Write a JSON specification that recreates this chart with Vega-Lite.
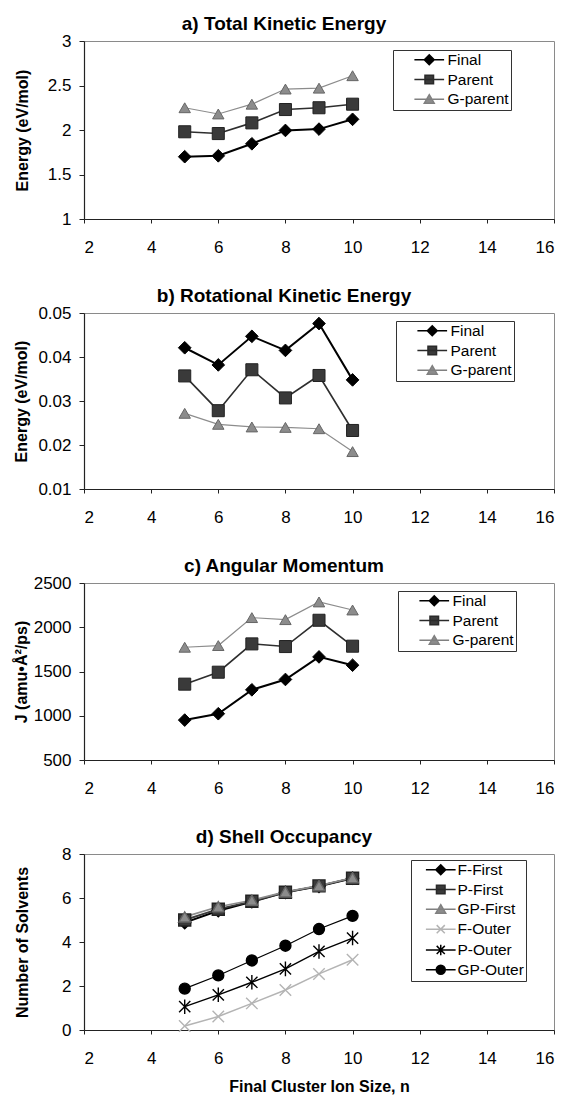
{
  "$schema": "https://vega.github.io/schema/vega-lite/v6.json",
  "padding": {"left": 12, "top": 14, "right": 2, "bottom": 2},
  "spacing": 30,
  "resolve": {
    "scale": {"color": "independent", "shape": "independent", "stroke": "independent", "strokeWidth": "independent", "size": "independent"},
    "legend": {"color": "independent", "shape": "independent", "stroke": "independent"}
  },
  "datasets": {
    "a": [
      {"n": 5, "s": "Final", "v": 1.70}, {"n": 6, "s": "Final", "v": 1.71}, {"n": 7, "s": "Final", "v": 1.845}, {"n": 8, "s": "Final", "v": 1.995}, {"n": 9, "s": "Final", "v": 2.01}, {"n": 10, "s": "Final", "v": 2.12},
      {"n": 5, "s": "Parent", "v": 1.98}, {"n": 6, "s": "Parent", "v": 1.96}, {"n": 7, "s": "Parent", "v": 2.08}, {"n": 8, "s": "Parent", "v": 2.23}, {"n": 9, "s": "Parent", "v": 2.25}, {"n": 10, "s": "Parent", "v": 2.29},
      {"n": 5, "s": "G-parent", "v": 2.25}, {"n": 6, "s": "G-parent", "v": 2.18}, {"n": 7, "s": "G-parent", "v": 2.29}, {"n": 8, "s": "G-parent", "v": 2.46}, {"n": 9, "s": "G-parent", "v": 2.47}, {"n": 10, "s": "G-parent", "v": 2.61}
    ],
    "b": [
      {"n": 5, "s": "Final", "v": 0.0421}, {"n": 6, "s": "Final", "v": 0.0382}, {"n": 7, "s": "Final", "v": 0.0447}, {"n": 8, "s": "Final", "v": 0.0415}, {"n": 9, "s": "Final", "v": 0.0476}, {"n": 10, "s": "Final", "v": 0.0348},
      {"n": 5, "s": "Parent", "v": 0.0357}, {"n": 6, "s": "Parent", "v": 0.0278}, {"n": 7, "s": "Parent", "v": 0.0371}, {"n": 8, "s": "Parent", "v": 0.0307}, {"n": 9, "s": "Parent", "v": 0.0358}, {"n": 10, "s": "Parent", "v": 0.0233},
      {"n": 5, "s": "G-parent", "v": 0.0272}, {"n": 6, "s": "G-parent", "v": 0.0247}, {"n": 7, "s": "G-parent", "v": 0.0241}, {"n": 8, "s": "G-parent", "v": 0.0240}, {"n": 9, "s": "G-parent", "v": 0.0237}, {"n": 10, "s": "G-parent", "v": 0.0185}
    ],
    "c": [
      {"n": 5, "s": "Final", "v": 951}, {"n": 6, "s": "Final", "v": 1023}, {"n": 7, "s": "Final", "v": 1293}, {"n": 8, "s": "Final", "v": 1410}, {"n": 9, "s": "Final", "v": 1665}, {"n": 10, "s": "Final", "v": 1571},
      {"n": 5, "s": "Parent", "v": 1357}, {"n": 6, "s": "Parent", "v": 1492}, {"n": 7, "s": "Parent", "v": 1812}, {"n": 8, "s": "Parent", "v": 1782}, {"n": 9, "s": "Parent", "v": 2079}, {"n": 10, "s": "Parent", "v": 1786},
      {"n": 5, "s": "G-parent", "v": 1774}, {"n": 6, "s": "G-parent", "v": 1793}, {"n": 7, "s": "G-parent", "v": 2109}, {"n": 8, "s": "G-parent", "v": 2086}, {"n": 9, "s": "G-parent", "v": 2286}, {"n": 10, "s": "G-parent", "v": 2195}
    ],
    "d": [
      {"n": 5, "s": "F-First", "v": 4.88}, {"n": 6, "s": "F-First", "v": 5.42}, {"n": 7, "s": "F-First", "v": 5.83}, {"n": 8, "s": "F-First", "v": 6.26}, {"n": 9, "s": "F-First", "v": 6.53}, {"n": 10, "s": "F-First", "v": 6.9},
      {"n": 5, "s": "P-First", "v": 5.0}, {"n": 6, "s": "P-First", "v": 5.49}, {"n": 7, "s": "P-First", "v": 5.85}, {"n": 8, "s": "P-First", "v": 6.26}, {"n": 9, "s": "P-First", "v": 6.55}, {"n": 10, "s": "P-First", "v": 6.9},
      {"n": 5, "s": "GP-First", "v": 5.14}, {"n": 6, "s": "GP-First", "v": 5.6}, {"n": 7, "s": "GP-First", "v": 5.9}, {"n": 8, "s": "GP-First", "v": 6.28}, {"n": 9, "s": "GP-First", "v": 6.56}, {"n": 10, "s": "GP-First", "v": 6.92},
      {"n": 5, "s": "F-Outer", "v": 0.18}, {"n": 6, "s": "F-Outer", "v": 0.61}, {"n": 7, "s": "F-Outer", "v": 1.21}, {"n": 8, "s": "F-Outer", "v": 1.82}, {"n": 9, "s": "F-Outer", "v": 2.55}, {"n": 10, "s": "F-Outer", "v": 3.19},
      {"n": 5, "s": "P-Outer", "v": 1.06}, {"n": 6, "s": "P-Outer", "v": 1.6}, {"n": 7, "s": "P-Outer", "v": 2.17}, {"n": 8, "s": "P-Outer", "v": 2.78}, {"n": 9, "s": "P-Outer", "v": 3.57}, {"n": 10, "s": "P-Outer", "v": 4.18},
      {"n": 5, "s": "GP-Outer", "v": 1.88}, {"n": 6, "s": "GP-Outer", "v": 2.48}, {"n": 7, "s": "GP-Outer", "v": 3.16}, {"n": 8, "s": "GP-Outer", "v": 3.83}, {"n": 9, "s": "GP-Outer", "v": 4.59}, {"n": 10, "s": "GP-Outer", "v": 5.19}
    ]
  },
  "vconcat": [
    {
      "width": 470, "height": 178,
      "title": {"text": "a) Total Kinetic Energy", "dx": -35},
      "data": {"name": "a"},
      "resolve": {"scale": {"color": "independent", "shape": "independent", "stroke": "independent", "strokeWidth": "independent", "size": "independent"}},
      "encoding": {
        "x": {"field": "n", "type": "quantitative", "scale": {"domain": [2, 16], "nice": false}, "axis": {"values": [2, 4, 6, 8, 10, 12, 14, 16], "format": "d", "title": null}},
        "y": {"field": "v", "type": "quantitative", "scale": {"domain": [1, 3], "nice": false, "zero": false}, "axis": {"values": [1, 1.5, 2, 2.5, 3], "format": "~g", "title": "Energy (eV/mol)", "titlePadding": 17}}
      },
      "layer": [
        {"mark": {"type": "line"}, "encoding": {
          "color": {"field": "s", "type": "nominal", "scale": {"domain": ["Final", "Parent", "G-parent"], "range": ["#000000", "#2e2e2e", "#8c8c8c"]}, "legend": null},
          "strokeWidth": {"field": "s", "type": "nominal", "scale": {"domain": ["Final", "Parent", "G-parent"], "range": [2, 1.2, 1]}, "legend": null}}},
        {"mark": {"type": "point", "filled": true, "opacity": 1, "strokeWidth": 1}, "encoding": {
          "color": {"field": "s", "type": "nominal", "scale": {"domain": ["Final", "Parent", "G-parent"], "range": ["#000000", "#3a3a3a", "#8c8c8c"]}, "legend": null},
          "shape": {"field": "s", "type": "nominal", "scale": {"domain": ["Final", "Parent", "G-parent"], "range": ["diamond", "square", "triangle-up"]}, "legend": null},
          "stroke": {"field": "s", "type": "nominal", "scale": {"domain": ["Final", "Parent", "G-parent"], "range": ["#000000", "#222222", "#666666"]}, "legend": null},
          "size": {"field": "s", "type": "nominal", "scale": {"domain": ["Final", "Parent", "G-parent"], "range": [160, 130, 130]}, "legend": null}}},
        {"mark": {"type": "point", "filled": true, "opacity": 0}, "encoding": {
          "color": {"field": "s", "type": "nominal", "scale": {"domain": ["Final", "Parent", "G-parent"], "range": ["#000000", "#3a3a3a", "#8c8c8c"]}, "legend": {"title": null, "orient": "none", "legendX": 309, "legendY": 9}},
          "stroke": {"field": "s", "type": "nominal", "scale": {"domain": ["Final", "Parent", "G-parent"], "range": ["#000000", "#2a2a2a", "#808080"]}, "legend": {"title": null, "orient": "none", "legendX": 309, "legendY": 9}},
          "shape": {"field": "s", "type": "nominal", "scale": {"domain": ["Final", "Parent", "G-parent"], "range": ["M-3.3,0H3.3M-1.1,0L0,-1.1L1.1,0L0,1.1Z", "M-3.3,0H3.3M-0.95,-0.95H0.95V0.95H-0.95Z", "M-3.3,0H3.3M0,-1.05L1.1,0.85H-1.1Z"]}, "legend": {"title": null, "orient": "none", "legendX": 309, "legendY": 9}}}}
      ]
    },
    {
      "width": 470, "height": 176,
      "title": {"text": "b) Rotational Kinetic Energy", "dx": -35},
      "data": {"name": "b"},
      "resolve": {"scale": {"color": "independent", "shape": "independent", "stroke": "independent", "strokeWidth": "independent", "size": "independent"}},
      "encoding": {
        "x": {"field": "n", "type": "quantitative", "scale": {"domain": [2, 16], "nice": false}, "axis": {"values": [2, 4, 6, 8, 10, 12, 14, 16], "format": "d", "title": null}},
        "y": {"field": "v", "type": "quantitative", "scale": {"domain": [0.01, 0.05], "nice": false, "zero": false}, "axis": {"values": [0.01, 0.02, 0.03, 0.04, 0.05], "format": ".2f", "title": "Energy (eV/mol)", "titlePadding": 8}}
      },
      "layer": [
        {"mark": {"type": "line"}, "encoding": {
          "color": {"field": "s", "type": "nominal", "scale": {"domain": ["Final", "Parent", "G-parent"], "range": ["#000000", "#2e2e2e", "#8c8c8c"]}, "legend": null},
          "strokeWidth": {"field": "s", "type": "nominal", "scale": {"domain": ["Final", "Parent", "G-parent"], "range": [2, 1.2, 1]}, "legend": null}}},
        {"mark": {"type": "point", "filled": true, "opacity": 1, "strokeWidth": 1}, "encoding": {
          "color": {"field": "s", "type": "nominal", "scale": {"domain": ["Final", "Parent", "G-parent"], "range": ["#000000", "#3a3a3a", "#8c8c8c"]}, "legend": null},
          "shape": {"field": "s", "type": "nominal", "scale": {"domain": ["Final", "Parent", "G-parent"], "range": ["diamond", "square", "triangle-up"]}, "legend": null},
          "stroke": {"field": "s", "type": "nominal", "scale": {"domain": ["Final", "Parent", "G-parent"], "range": ["#000000", "#222222", "#666666"]}, "legend": null},
          "size": {"field": "s", "type": "nominal", "scale": {"domain": ["Final", "Parent", "G-parent"], "range": [160, 130, 130]}, "legend": null}}},
        {"mark": {"type": "point", "filled": true, "opacity": 0}, "encoding": {
          "color": {"field": "s", "type": "nominal", "scale": {"domain": ["Final", "Parent", "G-parent"], "range": ["#000000", "#3a3a3a", "#8c8c8c"]}, "legend": {"title": null, "orient": "none", "legendX": 312, "legendY": 8}},
          "stroke": {"field": "s", "type": "nominal", "scale": {"domain": ["Final", "Parent", "G-parent"], "range": ["#000000", "#2a2a2a", "#808080"]}, "legend": {"title": null, "orient": "none", "legendX": 312, "legendY": 8}},
          "shape": {"field": "s", "type": "nominal", "scale": {"domain": ["Final", "Parent", "G-parent"], "range": ["M-3.3,0H3.3M-1.1,0L0,-1.1L1.1,0L0,1.1Z", "M-3.3,0H3.3M-0.95,-0.95H0.95V0.95H-0.95Z", "M-3.3,0H3.3M0,-1.05L1.1,0.85H-1.1Z"]}, "legend": {"title": null, "orient": "none", "legendX": 312, "legendY": 8}}}}
      ]
    },
    {
      "width": 470, "height": 177,
      "title": {"text": "c) Angular Momentum", "dx": -35},
      "data": {"name": "c"},
      "resolve": {"scale": {"color": "independent", "shape": "independent", "stroke": "independent", "strokeWidth": "independent", "size": "independent"}},
      "encoding": {
        "x": {"field": "n", "type": "quantitative", "scale": {"domain": [2, 16], "nice": false}, "axis": {"values": [2, 4, 6, 8, 10, 12, 14, 16], "format": "d", "title": null}},
        "y": {"field": "v", "type": "quantitative", "scale": {"domain": [500, 2500], "nice": false, "zero": false}, "axis": {"values": [500, 1000, 1500, 2000, 2500], "format": "d", "title": "J (amu•Å²/ps)", "titlePadding": 4}}
      },
      "layer": [
        {"mark": {"type": "line"}, "encoding": {
          "color": {"field": "s", "type": "nominal", "scale": {"domain": ["Final", "Parent", "G-parent"], "range": ["#000000", "#2e2e2e", "#8c8c8c"]}, "legend": null},
          "strokeWidth": {"field": "s", "type": "nominal", "scale": {"domain": ["Final", "Parent", "G-parent"], "range": [2, 1.2, 1]}, "legend": null}}},
        {"mark": {"type": "point", "filled": true, "opacity": 1, "strokeWidth": 1}, "encoding": {
          "color": {"field": "s", "type": "nominal", "scale": {"domain": ["Final", "Parent", "G-parent"], "range": ["#000000", "#3a3a3a", "#8c8c8c"]}, "legend": null},
          "shape": {"field": "s", "type": "nominal", "scale": {"domain": ["Final", "Parent", "G-parent"], "range": ["diamond", "square", "triangle-up"]}, "legend": null},
          "stroke": {"field": "s", "type": "nominal", "scale": {"domain": ["Final", "Parent", "G-parent"], "range": ["#000000", "#222222", "#666666"]}, "legend": null},
          "size": {"field": "s", "type": "nominal", "scale": {"domain": ["Final", "Parent", "G-parent"], "range": [160, 130, 130]}, "legend": null}}},
        {"mark": {"type": "point", "filled": true, "opacity": 0}, "encoding": {
          "color": {"field": "s", "type": "nominal", "scale": {"domain": ["Final", "Parent", "G-parent"], "range": ["#000000", "#3a3a3a", "#8c8c8c"]}, "legend": {"title": null, "orient": "none", "legendX": 314, "legendY": 8}},
          "stroke": {"field": "s", "type": "nominal", "scale": {"domain": ["Final", "Parent", "G-parent"], "range": ["#000000", "#2a2a2a", "#808080"]}, "legend": {"title": null, "orient": "none", "legendX": 314, "legendY": 8}},
          "shape": {"field": "s", "type": "nominal", "scale": {"domain": ["Final", "Parent", "G-parent"], "range": ["M-3.3,0H3.3M-1.1,0L0,-1.1L1.1,0L0,1.1Z", "M-3.3,0H3.3M-0.95,-0.95H0.95V0.95H-0.95Z", "M-3.3,0H3.3M0,-1.05L1.1,0.85H-1.1Z"]}, "legend": {"title": null, "orient": "none", "legendX": 314, "legendY": 8}}}}
      ]
    },
    {
      "width": 470, "height": 176,
      "title": {"text": "d) Shell Occupancy", "dx": -35},
      "data": {"name": "d"},
      "resolve": {"scale": {"color": "independent", "shape": "independent", "stroke": "independent", "strokeWidth": "independent", "size": "independent"}},
      "encoding": {
        "x": {"field": "n", "type": "quantitative", "scale": {"domain": [2, 16], "nice": false}, "axis": {"values": [2, 4, 6, 8, 10, 12, 14, 16], "format": "d", "title": "Final Cluster Ion Size, n", "titlePadding": 12}},
        "y": {"field": "v", "type": "quantitative", "scale": {"domain": [0, 8], "nice": false}, "axis": {"values": [0, 2, 4, 6, 8], "format": "d", "title": "Number of Solvents", "titlePadding": 31}}
      },
      "layer": [
        {"mark": {"type": "line"}, "encoding": {
          "color": {"field": "s", "type": "nominal", "scale": {"domain": ["F-First", "P-First", "GP-First", "F-Outer", "P-Outer", "GP-Outer"], "range": ["#000000", "#3a3a3a", "#8c8c8c", "#b4b4b4", "#000000", "#000000"]}, "legend": null},
          "strokeWidth": {"field": "s", "type": "nominal", "scale": {"domain": ["F-First", "P-First", "GP-First", "F-Outer", "P-Outer", "GP-Outer"], "range": [2, 1.2, 1, 1, 1.6, 1.6]}, "legend": null}}},
        {"mark": {"type": "point", "filled": true, "opacity": 1, "strokeWidth": 1.4}, "encoding": {
          "color": {"field": "s", "type": "nominal", "scale": {"domain": ["F-First", "P-First", "GP-First", "F-Outer", "P-Outer", "GP-Outer"], "range": ["#000000", "#3a3a3a", "#8c8c8c", "#b4b4b4", "#000000", "#000000"]}, "legend": null},
          "shape": {"field": "s", "type": "nominal", "scale": {"domain": ["F-First", "P-First", "GP-First", "F-Outer", "P-Outer", "GP-Outer"], "range": ["diamond", "square", "triangle-up", "M-1,-1L1,1M-1,1L1,-1", "M-1,-1L1,1M-1,1L1,-1M0,-1.3L0,1.3", "circle"]}, "legend": null},
          "stroke": {"field": "s", "type": "nominal", "scale": {"domain": ["F-First", "P-First", "GP-First", "F-Outer", "P-Outer", "GP-Outer"], "range": ["#000000", "#222222", "#666666", "#b4b4b4", "#000000", "#000000"]}, "legend": null},
          "size": {"field": "s", "type": "nominal", "scale": {"domain": ["F-First", "P-First", "GP-First", "F-Outer", "P-Outer", "GP-Outer"], "range": [150, 120, 130, 100, 110, 130]}, "legend": null}}},
        {"mark": {"type": "point", "filled": true, "opacity": 0}, "encoding": {
          "color": {"field": "s", "type": "nominal", "scale": {"domain": ["F-First", "P-First", "GP-First", "F-Outer", "P-Outer", "GP-Outer"], "range": ["#000000", "#3a3a3a", "#8c8c8c", "#b4b4b4", "#000000", "#000000"]}, "legend": {"title": null, "orient": "none", "legendX": 327, "legendY": 6, "symbolOffset": 20, "labelOffset": 9}},
          "stroke": {"field": "s", "type": "nominal", "scale": {"domain": ["F-First", "P-First", "GP-First", "F-Outer", "P-Outer", "GP-Outer"], "range": ["#000000", "#2a2a2a", "#808080", "#b4b4b4", "#000000", "#000000"]}, "legend": {"title": null, "orient": "none", "legendX": 327, "legendY": 6, "symbolOffset": 20, "labelOffset": 9}},
          "shape": {"field": "s", "type": "nominal", "scale": {"domain": ["F-First", "P-First", "GP-First", "F-Outer", "P-Outer", "GP-Outer"], "range": ["M-3.3,0H3.3M-1.1,0L0,-1.1L1.1,0L0,1.1Z", "M-3.3,0H3.3M-0.95,-0.95H0.95V0.95H-0.95Z", "M-3.3,0H3.3M0,-1.05L1.1,0.85H-1.1Z", "M-3.3,0H3.3M-0.9,-0.9L0.9,0.9M-0.9,0.9L0.9,-0.9", "M-3.3,0H3.3M-0.9,-0.9L0.9,0.9M-0.9,0.9L0.9,-0.9M0,-1.15V1.15", "M-3.3,0H3.3M-1,0A1,1,0,1,1,1,0A1,1,0,1,1,-1,0Z"]}, "legend": {"title": null, "orient": "none", "legendX": 327, "legendY": 6, "symbolOffset": 20, "labelOffset": 9}}}}
      ]
    }
  ],
  "config": {
    "font": "Liberation Sans",
    "view": {"stroke": "#8a8a8a", "strokeWidth": 1},
    "title": {"font": "Liberation Sans", "fontSize": 19, "fontWeight": "bold", "color": "#000000", "baseline": "alphabetic", "offset": -2, "anchor": "middle"},
    "axis": {"grid": false, "labelFont": "Liberation Sans", "labelFontSize": 17, "labelColor": "#000000", "titleFont": "Liberation Sans", "titleFontSize": 16, "titleFontWeight": "bold", "titleColor": "#000000", "domainColor": "#222222", "tickColor": "#222222", "domainWidth": 1.2, "tickSize": 5},
    "axisX": {"labelPadding": 16, "tickSize": 4},
    "axisY": {"labelPadding": 8},
    "legend": {"labelFont": "Liberation Sans", "labelFontSize": 15.5, "labelColor": "#000000", "symbolSize": 81, "symbolStrokeWidth": 1.5, "symbolOpacity": 1, "padding": 2, "rowPadding": 2.8, "strokeColor": "#333333", "fillColor": "#ffffff", "symbolOffset": 26.5, "labelOffset": 10.5}
  }
}
